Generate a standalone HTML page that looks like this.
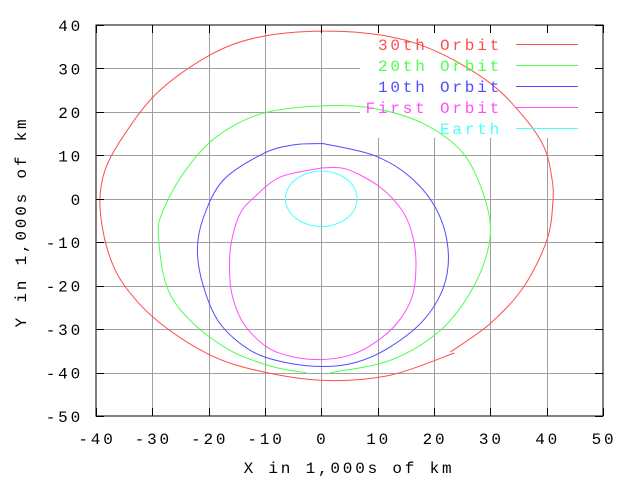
<!DOCTYPE html>
<html><head><meta charset="utf-8"><style>
html,body{margin:0;padding:0;background:#fff;}
svg{display:block;}
text{font-family:"Liberation Mono",monospace;font-size:16px;letter-spacing:2.8px;}
</style></head><body>
<svg id="chart" width="640" height="480" viewBox="0 0 640 480" xmlns="http://www.w3.org/2000/svg">
<rect x="0" y="0" width="640" height="480" fill="#fff"/>
<g id="grid"></g>
<rect id="keybg" fill="#fff"/>
<g id="series"></g>
<g id="ticks"></g>
<g id="legend"></g>
<rect x="96" y="25" width="507" height="391" fill="none" stroke="#000" stroke-width="1"/>
<text x="349" y="473" text-anchor="middle">X in 1,000s of km</text>
<text x="0" y="0" text-anchor="middle" transform="translate(26,222) rotate(-90)">Y in 1,000s of km</text>
</svg>
<script>
const xTicks = [-40,-30,-20,-10,0,10,20,30,40,50];
const yTicks = [40,30,20,10,0,-10,-20,-30,-40,-50];
const seriesNames = ["30th Orbit","20th Orbit","10th Orbit","First Orbit","Earth"];
const seriesColors = ["#ff4d4d","#4dff4d","#4d4dff","#ff4dff","#4dffff"];
const orbit30X = [22.9,30.0,35.9,40.05,41.1,40.9,39.5,35.9,30.0,21.1,12.2,0.4,-11.5,-20.3,-29.2,-35.2,-38.4,-39.3,-38.1,-35.2,-29.2,-20.3,-11.5,0.4,12.2,23.6];
const orbit30Y = [-35.3,-28.7,-20.3,-9.5,-0.7,5.0,12.0,18.9,26.6,33.5,37.3,38.6,37.1,32.7,24.3,14.3,6.6,-1.1,-11.1,-19.5,-28.0,-35.6,-39.5,-41.8,-40.6,-35.5];
const orbit20X = [1.6,12.2,21.1,27.0,29.9,29.1,25.2,18.1,9.3,0.4,-10.3,-18.6,-24.5,-28.3,-28.9,-27.4,-23.3,-16.2,-8.5,-2.7];
const orbit20Y = [-40.0,-37.2,-30.3,-20.3,-9.5,-0.3,10.4,17.3,20.8,21.4,19.7,14.3,5.8,-3.4,-8.8,-20.3,-28.0,-34.9,-38.7,-40.0];
const orbit10X = [0.4,9.3,15.8,20.5,22.5,21.7,18.1,12.2,6.3,0.4,-6.7,-12.6,-18.0,-20.9,-22.0,-20.9,-17.4,-10.3,-5.0,0.4];
const orbit10Y = [12.7,10.0,5.0,-2.6,-11.8,-20.3,-28.0,-34.1,-37.6,-38.6,-37.6,-34.9,-28.7,-20.3,-11.8,-4.2,4.3,10.4,12.4,12.7];
const orbit1X = [0.1,4.5,10.4,14.3,16.1,16.8,16.1,13.4,9.3,5.1,0.1,-5.0,-9.7,-13.8,-15.9,-16.3,-15.9,-14.4,-12.1,-7.3,0.1];
const orbit1Y = [7.1,6.8,2.7,-2.6,-8.0,-14.9,-22.6,-28.7,-33.3,-36.0,-37.0,-36.4,-34.1,-28.7,-21.8,-14.9,-9.5,-3.4,0.1,5.0,7.1];
const earthX = [6.4,5.9,4.5,2.4,0,-2.4,-4.5,-5.9,-6.4,-5.9,-4.5,-2.4,0,2.4,4.5,5.9,6.4];
const earthY = [0,2.4,4.5,5.9,6.4,5.9,4.5,2.4,0,-2.4,-4.5,-5.9,-6.4,-5.9,-4.5,-2.4,0];

const NS="http://www.w3.org/2000/svg";
const L=96,R=603,T=25,B=416;
const xMin=-40,xMax=50,yMin=-50,yMax=40;
function sx(v){return L+(v-xMin)/(xMax-xMin)*(R-L);}
function sy(v){return B-(v-yMin)/(yMax-yMin)*(B-T);}
function mk(tag,attrs,parent){const e=document.createElementNS(NS,tag);for(const k in attrs)e.setAttribute(k,attrs[k]);parent.appendChild(e);return e;}

const grid=document.getElementById('grid');
const ticks=document.getElementById('ticks');
xTicks.forEach(v=>{
  const x=Math.round(sx(v))+0.5;
  if(v>xMin&&v<xMax){
    const g=mk('line',{x1:x,x2:x,y1:T,y2:B,stroke:'#a0a0a0','stroke-width':1},grid);
    
    
  }
  const t1=mk('line',{x1:x,x2:x,y1:B,y2:B-8,stroke:'#000'},ticks);
  
  
  const t2=mk('line',{x1:x,x2:x,y1:T,y2:T+8,stroke:'#000'},ticks);
  
  
  const lb=mk('text',{x:sx(v)+1,y:444,'text-anchor':'middle'},ticks);
  lb.textContent=v;
  
  
});
yTicks.forEach(v=>{
  const y=Math.round(sy(v))+0.5;
  if(v>yMin&&v<yMax){
    const g=mk('line',{x1:L,x2:R,y1:y,y2:y,stroke:'#a0a0a0','stroke-width':1},grid);
    
    
  }
  const t1=mk('line',{x1:L,x2:L+8,y1:y,y2:y,stroke:'#000'},ticks);
  
  
  const t2=mk('line',{x1:R,x2:R-8,y1:y,y2:y,stroke:'#000'},ticks);
  
  
  const lb=mk('text',{x:83,y:sy(v)+6,'text-anchor':'end'},ticks);
  lb.textContent=v;
  
  
});

const kb=document.getElementById('keybg');
kb.setAttribute('x',360);kb.setAttribute('y',T+1);kb.setAttribute('width',R-360-1);kb.setAttribute('height',112);

function smoothPath(P){
  let d='M'+P[0][0].toFixed(1)+','+P[0][1].toFixed(1);
  for(let i=0;i<P.length-1;i++){
    const p0=P[Math.max(0,i-1)],p1=P[i],p2=P[i+1],p3=P[Math.min(P.length-1,i+2)];
    const c1x=p1[0]+(p2[0]-p0[0])/6,c1y=p1[1]+(p2[1]-p0[1])/6;
    const c2x=p2[0]-(p3[0]-p1[0])/6,c2y=p2[1]-(p3[1]-p1[1])/6;
    d+=' C'+c1x.toFixed(1)+','+c1y.toFixed(1)+' '+c2x.toFixed(1)+','+c2y.toFixed(1)+' '+p2[0].toFixed(1)+','+p2[1].toFixed(1);
  }
  return d;
}

const seriesX=[orbit30X,orbit20X,orbit10X,orbit1X,earthX];
const seriesY=[orbit30Y,orbit20Y,orbit10Y,orbit1Y,earthY];
const sg=document.getElementById('series');
seriesX.forEach((xs,i)=>{
  const P=xs.map((x,j)=>[sx(x),sy(seriesY[i][j])]);
  const p=mk('path',{d:smoothPath(P),fill:'none',stroke:seriesColors[i],'stroke-width':1},sg);
  
  
});

const lg=document.getElementById('legend');
seriesNames.forEach((n,i)=>{
  const y=44+i*21;
  const t=mk('text',{x:502,y:y+6,'text-anchor':'end',fill:seriesColors[i]},lg);
  t.textContent=n;
  
  
  const ln=mk('line',{x1:516,x2:578,y1:y+0.5,y2:y+0.5,stroke:seriesColors[i]},lg);
  
  
});
</script>
</body></html>
